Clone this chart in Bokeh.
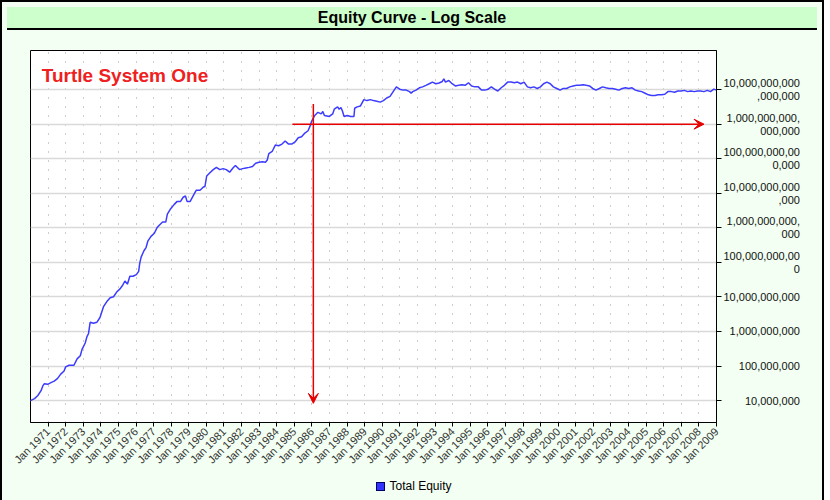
import math
from datetime import datetime
from bokeh.plotting import figure
from bokeh.models import (FixedTicker, Label, Arrow, VeeHead, Div, Range1d)
from bokeh.layouts import column
from bokeh.embed import file_html
from bokeh.resources import INLINE

# ---------------- data ----------------
years = [
    1970.00, 1970.23, 1970.42, 1970.60, 1970.70, 1970.79, 1970.98, 1971.16, 1971.35, 1971.53,
    1971.72, 1971.91, 1972.00, 1972.19, 1972.47, 1972.65, 1972.83, 1972.93, 1973.11, 1973.21,
    1973.30, 1973.39, 1973.58, 1973.77, 1973.95, 1974.16, 1974.34, 1974.53, 1974.72, 1974.90,
    1975.09, 1975.22, 1975.37, 1975.51, 1975.65, 1975.83, 1976.02, 1976.15, 1976.21, 1976.29,
    1976.45, 1976.57, 1976.67, 1976.85, 1977.04, 1977.19, 1977.32, 1977.51, 1977.69, 1977.78,
    1977.97, 1978.16, 1978.34, 1978.53, 1978.68, 1978.81, 1978.90, 1979.08, 1979.27, 1979.42,
    1979.64, 1979.83, 1979.92, 1980.02, 1980.20, 1980.39, 1980.57, 1980.76, 1980.95, 1981.13,
    1981.32, 1981.51, 1981.65, 1981.88, 1982.06, 1982.25, 1982.43, 1982.62, 1982.80, 1982.99,
    1983.18, 1983.36, 1983.46, 1983.55, 1983.74, 1983.92, 1984.11, 1984.30, 1984.48, 1984.67,
    1984.85, 1985.04, 1985.22, 1985.41, 1985.60, 1985.78, 1985.88, 1985.97, 1986.06, 1986.16,
    1986.34, 1986.53, 1986.62, 1986.71, 1986.99, 1987.18, 1987.27, 1987.46, 1987.55, 1987.65,
    1987.73, 1987.83, 1988.01, 1988.20, 1988.39, 1988.43, 1988.57, 1988.76, 1988.95, 1989.13,
    1989.32, 1989.50, 1989.69, 1989.88, 1990.06, 1990.25, 1990.44, 1990.62, 1990.80, 1990.99,
    1991.18, 1991.36, 1991.55, 1991.64, 1991.73, 1991.92, 1992.11, 1992.29, 1992.48, 1992.67,
    1992.85, 1993.04, 1993.23, 1993.41, 1993.50, 1993.59, 1993.78, 1993.97, 1994.15, 1994.34,
    1994.53, 1994.71, 1994.90, 1995.08, 1995.27, 1995.46, 1995.64, 1995.83, 1996.02, 1996.20,
    1996.38, 1996.57, 1996.76, 1996.94, 1997.13, 1997.32, 1997.50, 1997.69, 1997.87, 1998.06,
    1998.25, 1998.43, 1998.62, 1998.81, 1998.99, 1999.17, 1999.36, 1999.55, 1999.73, 1999.92,
    2000.11, 2000.29, 2000.48, 2000.66, 2000.85, 2001.04, 2001.22, 2001.41, 2001.60, 2001.78,
    2001.96, 2002.15, 2002.34, 2002.52, 2002.71, 2002.89, 2003.08, 2003.27, 2003.45, 2003.64,
    2003.83, 2004.01, 2004.20, 2004.39, 2004.57, 2004.75, 2004.94, 2005.13, 2005.31, 2005.50,
    2005.68, 2005.87, 2006.06, 2006.24, 2006.43, 2006.62, 2006.80, 2006.99, 2007.18, 2007.36,
    2007.54, 2007.73, 2007.92, 2008.10, 2008.29, 2008.48, 2008.66, 2008.85, 2009.00,
]

equity = [
    1.00e7, 1.14e7, 1.40e7, 1.93e7, 2.65e7, 3.08e7, 2.95e7, 3.29e7, 3.64e7, 4.32e7,
    5.82e7, 7.18e7, 9.44e7, 1.05e8, 1.05e8, 1.61e8, 1.99e8, 3.04e8, 4.63e8, 7.09e8,
    8.75e8, 1.84e9, 1.73e9, 1.84e9, 2.53e9, 5.33e9, 7.32e9, 9.44e9, 1.01e10, 1.38e10,
    1.71e10, 2.10e10, 2.89e10, 2.34e10, 3.97e10, 3.97e10, 4.43e10, 5.47e10, 9.33e10, 1.42e11,
    2.17e11, 2.68e11, 4.10e11, 5.64e11, 6.97e11, 1.00e12, 1.19e12, 1.47e12, 1.47e12, 2.48e12,
    3.57e12, 4.69e12, 5.82e12, 5.82e12, 7.66e12, 8.32e12, 5.82e12, 5.82e12, 8.87e12, 1.22e13,
    1.22e13, 1.51e13, 1.57e13, 3.16e13, 3.93e13, 4.84e13, 5.61e13, 4.84e13, 5.16e13, 4.84e13,
    4.08e13, 5.40e13, 6.37e13, 4.84e13, 5.16e13, 5.40e13, 5.61e13, 5.97e13, 7.41e13, 7.91e13,
    8.21e13, 7.91e13, 9.15e13, 1.40e14, 1.62e14, 2.48e14, 2.38e14, 2.65e14, 3.27e14, 2.65e14,
    2.65e14, 3.06e14, 4.03e14, 4.30e14, 5.53e14, 6.44e14, 8.47e14, 1.16e15, 1.44e15, 1.78e15,
    2.20e15, 1.98e15, 2.34e15, 1.78e15, 1.67e15, 1.98e15, 2.71e15, 3.16e15, 2.71e15, 3.03e15,
    2.45e15, 1.67e15, 1.78e15, 1.67e15, 1.67e15, 2.89e15, 3.16e15, 3.37e15, 5.13e15, 4.81e15,
    5.13e15, 4.81e15, 4.63e15, 4.35e15, 4.81e15, 5.71e15, 6.37e15, 8.75e15, 1.20e16, 1.03e16,
    9.68e15, 9.68e15, 8.75e15, 7.85e15, 8.75e15, 9.68e15, 1.13e16, 1.20e16, 1.33e16, 1.48e16,
    1.65e16, 1.48e16, 1.55e16, 1.72e16, 2.04e16, 1.65e16, 1.83e16, 1.48e16, 1.28e16, 1.33e16,
    1.39e16, 1.33e16, 1.58e16, 1.28e16, 1.20e16, 1.20e16, 9.68e15, 9.68e15, 1.03e16, 1.20e16,
    1.03e16, 9.10e15, 1.13e16, 1.33e16, 1.65e16, 1.65e16, 1.58e16, 1.65e16, 1.48e16, 1.65e16,
    1.20e16, 1.13e16, 1.20e16, 1.08e16, 1.20e16, 1.48e16, 1.65e16, 1.48e16, 1.20e16, 1.08e16,
    9.68e15, 1.08e16, 1.08e16, 1.20e16, 1.28e16, 1.33e16, 1.33e16, 1.39e16, 1.33e16, 1.28e16,
    1.08e16, 9.68e15, 1.08e16, 1.20e16, 1.13e16, 1.08e16, 1.08e16, 1.03e16, 9.68e15, 1.08e16,
    1.13e16, 1.08e16, 1.13e16, 9.68e15, 9.10e15, 8.75e15, 7.85e15, 7.05e15, 6.79e15, 6.79e15,
    7.05e15, 7.05e15, 7.36e15, 8.75e15, 8.75e15, 8.37e15, 9.10e15, 9.10e15, 9.51e15, 8.75e15,
    9.10e15, 8.75e15, 9.10e15, 9.10e15, 8.75e15, 9.51e15, 8.75e15, 1.03e16, 9.68e15,
]

tick_years = list(range(1971, 2010))
x_tick_labels = [f"Jan {y}" for y in tick_years]

y_tick_values = [1e7, 1e8, 1e9, 1e10, 1e11, 1e12, 1e13, 1e14, 1e15, 1e16]
y_tick_labels = [
    "10,000,000",
    "100,000,000",
    "1,000,000,000",
    "10,000,000,000",
    "100,000,000,00\n0",
    "1,000,000,000,\n000",
    "10,000,000,000\n,000",
    "100,000,000,00\n0,000",
    "1,000,000,000,\n000,000",
    "10,000,000,000\n,000,000",
]

title_text = "Equity Curve - Log Scale"
system_name = "Turtle System One"
series_name = "Total Equity"

# annotation arrows (dates as decimal years, levels as equity)
marker_year = 1986.08
marker_top, marker_bottom = 3.86e15, 8.3e6
level_value = 1e15
level_start_year, level_end_year = 1984.89, 2008.29

x_start_year, x_end_year = 1970, 2009
y_low, y_high = 10 ** 6.365, 10 ** 17.132

# ---------------- helpers ----------------
EPOCH = datetime(1970, 1, 1)


def ms(dt):
    return (dt - EPOCH).total_seconds() * 1000.0


def year_ms(y):
    yi = int(math.floor(y))
    a = datetime(yi, 1, 1)
    b = datetime(yi + 1, 1, 1)
    return ms(a) + (ms(b) - ms(a)) * (y - yi)


NBSP = "\u00a0"


def right_align(label, width_units=25):
    # digits are two units wide, commas and (no-break) spaces one unit
    out = []
    for line in label.split("\n"):
        w = sum(2 if ch.isdigit() else 1 for ch in line)
        out.append(NBSP * max(0, width_units - w) + line)
    return "\n".join(out)


xs = [year_ms(y) for y in years]
x_ticks = [ms(datetime(y, 1, 1)) for y in tick_years]
x_end = ms(datetime(x_end_year, 1, 1))

RED = "#e60000"
BLUE = "#3c3cff"
FONT = "Liberation Sans"
BG = "#f2fff2"

p = figure(width=810, height=437, x_axis_type="datetime", y_axis_type="log",
           x_range=Range1d(ms(datetime(x_start_year, 1, 1)), x_end),
           y_range=Range1d(y_low, y_high),
           y_axis_location="right", output_backend="svg", toolbar_location=None,
           min_border_left=28, min_border_right=96, min_border_top=15,
           min_border_bottom=46, title=None,
           background_fill_color="white", border_fill_color=BG,
           outline_line_color="black", outline_line_width=1)

# x axis
p.xaxis.ticker = FixedTicker(ticks=x_ticks, minor_ticks=[])
p.xaxis.major_label_overrides = {t: lab for t, lab in zip(x_ticks, x_tick_labels)}
p.xaxis.major_label_orientation = math.pi / 4
p.xaxis.major_label_text_font = FONT
p.xaxis.major_label_text_font_size = "11px"
p.xaxis.major_label_text_color = "#333333"
p.xaxis.major_tick_out = 4
p.xaxis.major_tick_in = 0
p.xaxis.major_tick_line_color = "black"
p.xaxis.axis_line_color = "black"
p.xaxis.major_label_standoff = 3

p.xgrid.ticker = FixedTicker(ticks=x_ticks, minor_ticks=[])
p.xgrid.grid_line_color = "#9a9a9a"
p.xgrid.grid_line_dash = "1 8"
p.xgrid.grid_line_width = 1

# y axis (right), wrapped labels right-aligned as in the original
p.yaxis.ticker = FixedTicker(ticks=y_tick_values, minor_ticks=[])
p.yaxis.major_label_overrides = {v: right_align(lab) for v, lab in zip(y_tick_values, y_tick_labels)}
p.yaxis.major_label_text_font = FONT
p.yaxis.major_label_text_font_size = "11px"
p.yaxis.major_label_text_color = "#111111"
p.yaxis.major_label_text_line_height = 1.1
p.yaxis.major_label_standoff = 2
p.yaxis.major_tick_out = 5
p.yaxis.major_tick_in = 0
p.yaxis.minor_tick_line_color = None
p.yaxis.major_tick_line_color = "black"
p.yaxis.axis_line_color = "black"

p.ygrid.ticker = FixedTicker(ticks=y_tick_values, minor_ticks=[])
p.ygrid.grid_line_color = "#d9d9d9"
p.ygrid.grid_line_width = 1.5

# equity curve
p.line(xs, equity, line_color=BLUE, line_width=1.5)

# arrows
xm = year_ms(marker_year)
p.add_layout(Arrow(end=VeeHead(size=10, fill_color=RED, line_color=RED),
                   x_start=xm, y_start=marker_top, x_end=xm, y_end=marker_bottom,
                   line_color=RED, line_width=1.5))
p.add_layout(Arrow(end=VeeHead(size=10, fill_color=RED, line_color=RED),
                   x_start=year_ms(level_start_year), y_start=level_value,
                   x_end=year_ms(level_end_year), y_end=level_value,
                   line_color=RED, line_width=1.5))

# system name
p.add_layout(Label(x=year_ms(1970.64), y=2.5e16, text=system_name, text_font=FONT,
                   text_font_style="bold", text_font_size="19px", text_color="#ee2020",
                   text_baseline="alphabetic"))

title = Div(text=title_text, width=810, height=23,
            styles={"background-color": "#ccffcc", "border-bottom": "2px solid black",
                    "box-sizing": "border-box", "text-align": "center",
                    "font-family": FONT, "font-weight": "bold", "font-size": "16px",
                    "line-height": "21px", "color": "black"})

legend_html = ('<span style="display:inline-block;width:9px;height:9px;'
               'background:#3333ff;border:1px solid #000066;vertical-align:-1px;'
               'margin-right:4px"></span>' + series_name)
legend = Div(text=legend_html, width=810, height=20,
             styles={"background-color": BG, "text-align": "center",
                     "font-family": FONT, "font-size": "12px", "line-height": "18px",
                     "color": "black", "box-sizing": "border-box",
                     "padding-left": "4px"})

layout = column(title, p, legend, spacing=0,
                styles={"border": "2px solid black", "background-color": BG})

open("out.html", "w").write(file_html(layout, INLINE))
